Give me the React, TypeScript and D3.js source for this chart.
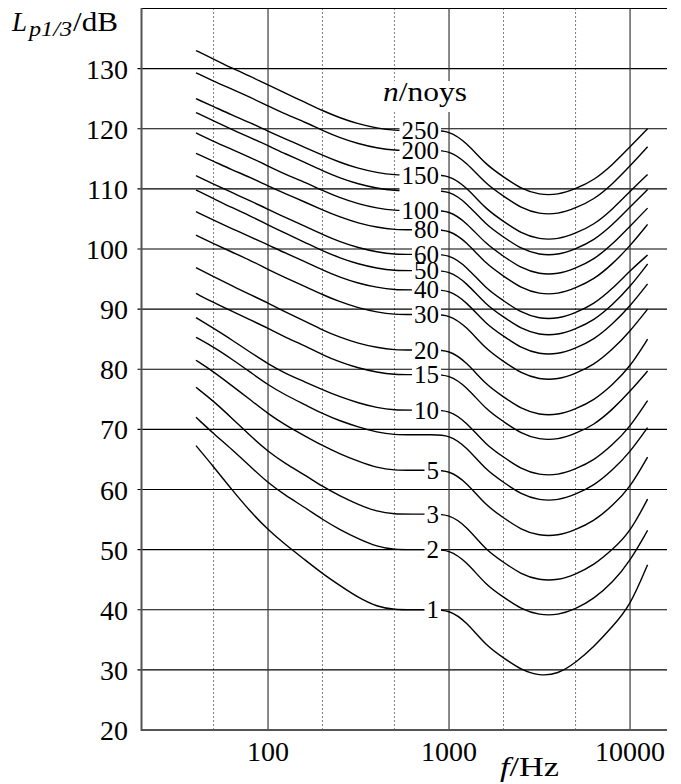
import React from "react";
import * as d3 from "d3";

// 1/3-octave band centre frequencies (Hz)
const freqs = [40, 50, 63, 80, 100, 125, 160, 200, 250, 315, 400, 500, 630, 800, 1000, 1250, 1600, 2000, 2500, 3150, 4000, 5000, 6300, 8000, 10000, 12500];

// Equal-noisiness contours, band level in dB, one value per band
const noy250 = [133.0, 131.6, 130.1, 128.7, 127.3, 125.9, 124.4, 123.0, 121.8, 120.8, 120.1, 119.7, 119.7, 119.7, 119.7, 117.7, 114.0, 112.0, 110.0, 109.0, 109.0, 110.0, 111.4, 114.0, 117.0, 120.0];
const noy200 = [129.3, 127.9, 126.6, 125.2, 123.8, 122.4, 121.1, 119.7, 118.5, 117.5, 116.8, 116.4, 116.4, 116.4, 116.4, 114.4, 110.8, 108.8, 106.8, 105.8, 105.8, 106.8, 108.2, 110.8, 113.8, 117.0];
const noy150 = [125.0, 123.7, 122.3, 121.0, 119.6, 118.3, 116.9, 115.6, 114.4, 113.4, 112.7, 112.3, 112.3, 112.3, 112.3, 110.3, 106.6, 104.6, 102.6, 101.6, 101.6, 102.6, 104.0, 106.6, 109.6, 112.4];
const noy125 = [122.7, 121.3, 119.9, 118.5, 117.2, 115.8, 114.4, 113.0, 111.8, 110.8, 110.1, 109.7, 109.7, 109.7, 109.7, 107.7, 104.0, 102.0, 100.0, 99.0, 99.0, 100.0, 101.4, 104.0, 107.0, 109.9];
const noy100 = [119.3, 117.9, 116.6, 115.2, 113.8, 112.4, 111.1, 109.7, 108.5, 107.5, 106.8, 106.4, 106.4, 106.4, 106.4, 104.4, 100.8, 98.8, 96.8, 95.8, 95.8, 96.8, 98.2, 100.8, 103.8, 106.8];
const noy80 = [115.9, 114.6, 113.2, 111.9, 110.5, 109.2, 107.8, 106.5, 105.3, 104.3, 103.6, 103.2, 103.2, 103.2, 103.2, 101.2, 97.5, 95.5, 93.5, 92.5, 92.5, 93.5, 94.9, 97.5, 100.5, 104.1];
const noy60 = [112.2, 110.8, 109.4, 108.0, 106.6, 105.2, 103.8, 102.4, 101.2, 100.2, 99.5, 99.1, 99.1, 99.1, 99.1, 97.1, 93.4, 91.4, 89.4, 88.4, 88.4, 89.4, 90.8, 93.4, 96.4, 99.0];
const noy50 = [109.8, 108.4, 106.9, 105.5, 104.0, 102.6, 101.1, 99.7, 98.5, 97.5, 96.8, 96.4, 96.4, 96.4, 96.4, 94.4, 90.7, 88.7, 86.7, 85.7, 85.7, 86.7, 88.1, 90.7, 93.7, 97.5];
const noy40 = [106.2, 104.8, 103.4, 102.0, 100.7, 99.3, 97.9, 96.5, 95.3, 94.3, 93.6, 93.2, 93.2, 93.2, 93.2, 91.2, 87.5, 85.5, 83.5, 82.5, 82.5, 83.5, 84.9, 87.5, 90.5, 94.2];
const noy30 = [102.3, 100.9, 99.5, 98.1, 96.6, 95.2, 93.8, 92.4, 91.2, 90.2, 89.5, 89.1, 89.1, 89.1, 89.1, 87.1, 83.3, 81.3, 79.3, 78.3, 78.3, 79.3, 80.7, 83.3, 86.3, 90.0];
const noy20 = [96.9, 95.4, 93.9, 92.4, 91.0, 89.5, 88.0, 86.5, 85.3, 84.3, 83.6, 83.2, 83.2, 83.2, 83.2, 81.2, 77.4, 75.4, 73.4, 72.4, 72.4, 73.4, 74.8, 77.4, 80.4, 85.0];
const noy15 = [92.6, 91.1, 89.7, 88.2, 86.8, 85.3, 83.9, 82.4, 81.2, 80.2, 79.5, 79.1, 79.1, 79.1, 79.1, 77.1, 73.3, 71.3, 69.3, 68.3, 68.3, 69.3, 70.7, 73.3, 76.3, 79.7];
const noy10 = [88.6, 86.8, 84.9, 82.8, 80.9, 79.3, 77.9, 76.6, 75.4, 74.4, 73.6, 73.2, 73.2, 73.2, 73.2, 71.2, 67.4, 65.4, 63.4, 62.4, 62.4, 63.4, 64.8, 67.4, 70.4, 74.8];
const noy7 = [85.3, 83.7, 81.7, 79.5, 77.4, 75.7, 74.1, 72.6, 71.4, 70.4, 69.5, 69.1, 69.1, 69.1, 69.1, 67.1, 63.2, 61.2, 59.2, 58.2, 58.2, 59.2, 60.6, 63.2, 66.2, 70.3];
const noy5 = [81.5, 79.6, 77.3, 74.9, 72.6, 70.7, 68.9, 67.3, 65.9, 64.7, 63.6, 63.2, 63.2, 63.2, 63.2, 61.2, 57.3, 55.3, 53.3, 52.3, 52.3, 53.3, 54.7, 57.3, 60.3, 65.4];
const noy3 = [77.0, 74.7, 71.9, 68.9, 66.3, 64.3, 62.4, 60.5, 58.9, 57.5, 56.3, 55.9, 55.9, 55.9, 55.9, 53.9, 49.9, 47.9, 45.9, 44.9, 44.9, 45.9, 47.4, 50.0, 52.9, 58.4];
const noy2 = [72.0, 69.3, 66.7, 63.8, 61.1, 59.0, 57.0, 55.0, 53.3, 51.8, 50.5, 50.0, 50.0, 50.0, 50.0, 48.0, 44.1, 42.1, 40.1, 39.1, 39.1, 40.1, 41.8, 44.5, 48.1, 53.2];
const noy1 = [67.3, 63.8, 60.0, 56.3, 53.3, 50.8, 48.3, 46.0, 44.0, 42.0, 40.5, 40.0, 40.0, 40.0, 40.0, 38.0, 34.0, 32.0, 30.0, 29.0, 29.3, 31.2, 33.8, 37.2, 40.6, 47.5];

const contours = [noy250, noy200, noy150, noy125, noy100, noy80, noy60, noy50, noy40, noy30, noy20, noy15, noy10, noy7, noy5, noy3, noy2, noy1];
// label text per contour ("" = blank label box, null = no label)
const contourLabels: (string | null)[] = ["250", "200", "150", "", "100", "80", "60", "50", "40", "30", "20", "15", "10", null, "5", "3", "2", "1"];

const yTicks = [20, 30, 40, 50, 60, 70, 80, 90, 100, 110, 120, 130];
const xTicks = [100, 1000, 10000];
const xMinor = [50, 200, 500, 2000, 5000];

const FONT = "'Liberation Serif', 'Times New Roman', Times, serif";

export default function App() {
  const W = 681;
  const H = 784;
  const x = d3.scaleLog().domain([20, 16000]).range([141.5, 667]);
  const y = d3.scaleLinear().domain([20, 140]).range([730, 8.5]);
  const xL = x(20);
  const xR = x(16000);
  const yTop = y(140);
  const yBot = y(20);

  const line = d3
    .line<[number, number]>()
    .x((d) => x(d[0]))
    .y((d) => y(d[1]))
    .curve(d3.curveBasis);

  const labelRight = 439;
  const labelFs = 25;
  const i1000 = freqs.indexOf(1000);

  const labelItems = contours
    .map((vals, i) => {
      const lab = contourLabels[i];
      if (lab === null) return null;
      const cy = y(vals[i1000]);
      const nChars = lab === "" ? 3 : lab.length;
      const w = nChars * labelFs * 0.5;
      return { lab, cy, w, i };
    })
    .filter((d) => d !== null) as { lab: string; cy: number; w: number; i: number }[];

  return (
    <svg
      width={W}
      height={H}
      style={{ position: "absolute", left: 0, top: 0, background: "#fff" }}
      fontFamily={FONT}
    >
      <rect x={0} y={0} width={W} height={H} fill="#fff" />
      {/* top border */}
      <line x1={xL} x2={xR} y1={yTop} y2={yTop} stroke="#000" strokeWidth={1.2} />
      {/* horizontal grid */}
      {yTicks
        .filter((v) => v > 20)
        .map((v) => (
          <line key={"h" + v} x1={xL - 4} x2={xR} y1={y(v)} y2={y(v)} stroke="#000" strokeWidth={1.2} />
        ))}
      {/* vertical solid */}
      {xTicks.map((v) => (
        <line key={"v" + v} x1={x(v)} x2={x(v)} y1={yTop} y2={yBot} stroke="#3a3a3a" strokeWidth={1.2} />
      ))}
      {/* vertical dotted */}
      {xMinor.map((v) => (
        <line
          key={"d" + v}
          x1={x(v)}
          x2={x(v)}
          y1={yTop}
          y2={yBot}
          stroke="#000"
          strokeWidth={1}
          strokeDasharray="1,3"
        />
      ))}
      {/* curves */}
      {contours.map((vals, i) => (
        <path
          key={"c" + i}
          d={line(freqs.map((f, j) => [f, vals[j]] as [number, number])) || ""}
          fill="none"
          stroke="#000"
          strokeWidth={1.4}
        />
      ))}
      {/* label backgrounds */}
      {labelItems.map((d) => (
        <rect key={"lb" + d.i} x={labelRight - d.w - 2} y={d.cy - 9} width={d.w + 4} height={18} fill="#fff" />
      ))}
      {/* label texts */}
      {labelItems
        .filter((d) => d.lab !== "")
        .map((d) => (
          <text key={"lt" + d.i} x={labelRight} y={d.cy + 8.5} textAnchor="end" fontSize={labelFs} fill="#000">
            {d.lab}
          </text>
        ))}
      {/* n/noys title */}
      <rect x={378} y={81} width={94} height={31} fill="#fff" />
      <text x={383} y={101} fontSize={27} fill="#000" textLength={84} lengthAdjust="spacingAndGlyphs">
        <tspan fontStyle="italic">n</tspan>
        <tspan>/noys</tspan>
      </text>
      {/* axes */}
      <line x1={xL} x2={xL} y1={yTop - 0.5} y2={yBot + 1} stroke="#555" strokeWidth={2} />
      <line x1={xL} x2={xR} y1={yBot} y2={yBot} stroke="#555" strokeWidth={2} />
      {/* y tick labels */}
      {yTicks.map((v) => (
        <text key={"yt" + v} x={128} y={y(v) + 10} textAnchor="end" fontSize={28} fill="#000">
          {v}
        </text>
      ))}
      {/* x tick labels */}
      {xTicks.map((v) => (
        <text key={"xt" + v} x={x(v)} y={761} textAnchor="middle" fontSize={28} fill="#000">
          {v}
        </text>
      ))}
      {/* axis titles */}
      <text x={500} y={776} fontSize={28} fill="#000" textLength={59} lengthAdjust="spacingAndGlyphs">
        <tspan fontStyle="italic">f</tspan>
        <tspan>/Hz</tspan>
      </text>
      <text x={12} y={31} fontSize={27} fill="#000" fontStyle="italic">
        L
      </text>
      <text x={29} y={36} fontSize={20} fill="#000" fontStyle="italic" textLength={43} lengthAdjust="spacingAndGlyphs">
        p1/3
      </text>
      <text x={73} y={31} fontSize={27} fill="#000" textLength={45} lengthAdjust="spacingAndGlyphs">
        /dB
      </text>
    </svg>
  );
}
